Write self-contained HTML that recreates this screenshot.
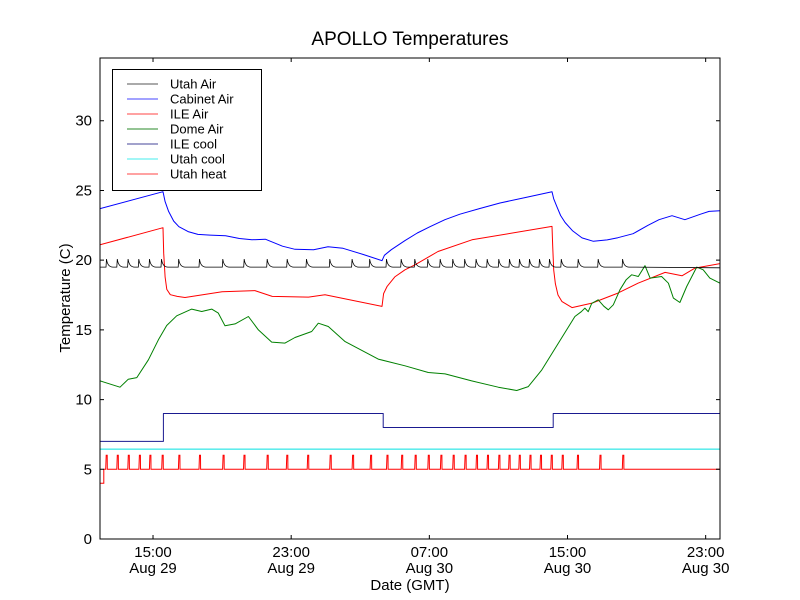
<!DOCTYPE html>
<html><head><meta charset="utf-8"><style>
body{margin:0;background:#fff;}
svg{display:block;font-family:"Liberation Sans","DejaVu Sans",sans-serif;}
</style></head><body>
<svg id="chart" width="800" height="600" xmlns="http://www.w3.org/2000/svg"></svg>
<script>
const xTickHours=[15,23,31,39,47];
const xTickLine1=["15:00","23:00","07:00","15:00","23:00"];
const xTickLine2=["Aug 29","Aug 29","Aug 30","Aug 30","Aug 30"];
const yTicks=[0,5,10,15,20,25,30];
const cabinetH=[11.93,15.58,15.7,15.9,16.2,16.5,17.03,17.6,18.3,19.2,20,20.73,21.5,22.5,23.22,24.3,25.13,26,27.2,28.26,28.4,28.8,29.59,30.3,31.04,31.9,32.77,33.9,35.09,36.6,38.10,38.2,38.4,38.6,38.86,39.3,39.84,40.5,41.3,41.92,42.8,43.66,44.3,45.05,45.80,46.7,47.2,47.83];
const cabinetV=[23.69,24.91,24.2,23.5,22.8,22.4,22.05,21.85,21.8,21.75,21.55,21.46,21.5,21.0,20.78,20.75,20.96,20.85,20.4,19.96,20.35,20.75,21.4,21.95,22.4,22.9,23.3,23.7,24.1,24.5,24.91,24.4,23.8,23.2,22.7,22.1,21.6,21.35,21.45,21.61,21.9,22.5,22.9,23.19,22.9,23.3,23.5,23.55];
const ileAirH=[11.93,15.58,15.62,15.7,15.8,16.0,16.4,16.85,19.0,20.9,21.9,24.0,24.96,28.26,28.35,28.55,29.0,29.59,30.17,31.5,33.47,38.1,38.14,38.2,38.3,38.45,38.68,39.26,40.42,41.92,43.08,44.65,45.63,46.38,47.83];
const ileAirV=[21.1,22.33,20.5,18.8,17.9,17.52,17.4,17.32,17.73,17.82,17.4,17.35,17.52,16.68,17.6,18.1,18.8,19.31,19.67,20.62,21.46,22.42,21.0,19.3,18.3,17.5,17.03,16.6,16.92,17.64,18.35,19.12,18.88,19.43,19.75];
const domeH=[11.93,13.09,13.57,14.06,14.73,15.31,15.79,16.37,17.24,17.82,18.40,18.78,19.17,19.75,20.52,21.10,21.87,22.64,23.22,24.19,24.57,25.15,26.12,28.04,29.59,30.94,31.91,33.45,34.99,36.06,36.73,37.51,38.47,39.43,39.8,40.01,40.2,40.4,40.78,41.1,41.36,41.65,42.04,42.4,42.72,43.10,43.49,43.78,44.45,44.84,45.13,45.51,45.90,46.48,46.86,47.24,47.83];
const domeV=[11.34,10.89,11.46,11.58,12.85,14.29,15.31,16.01,16.49,16.32,16.49,16.20,15.29,15.43,15.96,15.0,14.12,14.05,14.45,14.88,15.48,15.24,14.16,12.90,12.42,11.94,11.84,11.34,10.89,10.65,10.93,12.13,14.05,15.96,16.3,16.56,16.3,16.9,17.16,16.7,16.44,16.80,17.88,18.6,18.95,18.83,19.60,18.71,18.83,18.35,17.28,16.96,18.11,19.50,19.31,18.71,18.35];
const utahAirBase=19.5;
const utahAirPeak=20.08;
const utahAirSpikes=[12.28,12.90,13.53,14.15,14.77,15.46,16.46,17.66,19.01,20.25,21.58,22.74,23.86,25.21,26.50,27.52,28.49,29.34,30.13,30.88,31.60,32.33,33.02,33.68,34.32,34.99,35.61,36.19,36.77,37.35,37.93,38.61,39.59,40.75,42.16];
const ileCoolH=[11.93,15.6,28.33,38.17,47.83];
const ileCoolV=[7,9,8,9,9];
const utahCoolV=6.45;
const utahHeatBase=5;
const utahHeatOn=6;
const utahHeatSpikes=[12.26,12.90,13.54,14.18,14.79,15.50,16.47,17.66,19.03,20.24,21.58,22.72,23.93,25.23,26.53,27.57,28.52,29.37,30.15,30.91,31.64,32.35,33.04,33.70,34.34,35.00,35.59,36.18,36.80,37.41,38.03,38.67,39.55,40.85,42.17];
const legendLabels=["Utah Air","Cabinet Air","ILE Air","Dome Air","ILE cool","Utah cool","Utah heat"];
const legendColors=["#555","#4444ff","#ff4444","#2a8a2a","#44449a","#44eeee","#ff4444"];

const L=100,R=720,T=58,B=539,h0=11.93,h1=47.83,v0=0,v1=34.5;
const X=h=>L+(h-h0)/(h1-h0)*(R-L);
const Y=v=>B-(v-v0)/(v1-v0)*(B-T);
const svg=document.getElementById('chart');
const NS="http://www.w3.org/2000/svg";
function mk(tag,attrs,parent){const e=document.createElementNS(NS,tag);for(const k in attrs)e.setAttribute(k,attrs[k]);(parent||svg).appendChild(e);return e;}

const clip=mk('clipPath',{id:'pc'});mk('rect',{x:L,y:T,width:R-L,height:B-T},clip);
const plot=mk('g',{'clip-path':'url(#pc)'});



function line(hs,vs,color,name){
  let d='';for(let i=0;i<hs.length;i++)d+=(i?'L':'M')+X(hs[i]).toFixed(1)+' '+Y(vs[i]).toFixed(1);
  const p=mk('path',{d:d,fill:'none',stroke:color,'stroke-width':1,'stroke-linejoin':'round'},plot);
  
  
}
line(cabinetH,cabinetV,'#0000ff','cabinet-air-line');
line(ileAirH,ileAirV,'#ff0000','ile-air-line');
line(domeH,domeV,'#008000','dome-air-line');
line(ileCoolH.flatMap((h,i)=>i<ileCoolH.length-1?[h,ileCoolH[i+1]]:[]),ileCoolV.flatMap((v,i)=>i<ileCoolV.length-1?[v,v]:[]),'#1a1a90','ile-cool-line');
line([h0,h1],[utahCoolV,utahCoolV],'#00e0e0','utah-cool-line');

{let d='M'+X(h0)+' '+Y(utahAirBase);
 for(const t of utahAirSpikes){const x=X(t);d+='L'+x.toFixed(1)+' '+Y(utahAirBase)+'L'+(x+0.5).toFixed(1)+' '+Y(utahAirPeak).toFixed(1)+'Q'+(x+1.5).toFixed(1)+' '+Y(utahAirBase).toFixed(1)+' '+(x+7).toFixed(1)+' '+Y(utahAirBase).toFixed(1);}
 d+='L'+X(h1)+' '+Y(utahAirBase-0.05);
 const p=mk('path',{d:d,fill:'none',stroke:'#000','stroke-width':0.8},plot);
 
 }
{let d='M'+X(h0)+' '+Y(4)+'L'+X(12.15)+' '+Y(4)+'L'+X(12.15)+' '+Y(utahHeatBase);
 for(const t of utahHeatSpikes){const x=X(t);d+='L'+x.toFixed(1)+' '+Y(utahHeatBase)+'L'+(x+0.5).toFixed(1)+' '+Y(utahHeatOn).toFixed(1)+'L'+(x+1.5).toFixed(1)+' '+Y(utahHeatOn).toFixed(1)+'L'+(x+1.6).toFixed(1)+' '+Y(utahHeatBase);}
 d+='L'+X(h1)+' '+Y(utahHeatBase);
 const p=mk('path',{d:d,fill:'none',stroke:'#ff0000','stroke-width':1},plot);
 
 }

const fr=mk('rect',{x:L,y:T,width:R-L,height:B-T,fill:'none',stroke:'#000','stroke-width':1});


yTicks.forEach(v=>{const y=Y(v);
 mk('path',{d:`M${L} ${y}h4M${R} ${y}h-4`,stroke:'#000'});
 const t=mk('text',{x:L-8,y:y+5,'text-anchor':'end','font-size':15});t.textContent=v;
 
 });
xTickHours.forEach((h,i)=>{const x=X(h);
 mk('path',{d:`M${x} ${B}v-4M${x} ${T}v4`,stroke:'#000'});
 const t1=mk('text',{x:x,y:B+18,'text-anchor':'middle','font-size':15});t1.textContent=xTickLine1[i];
 
 
 const t2=mk('text',{x:x,y:B+34,'text-anchor':'middle','font-size':15});t2.textContent=xTickLine2[i];
 
 });
const ttl=mk('text',{x:410,y:45,'text-anchor':'middle','font-size':19});ttl.textContent='APOLLO Temperatures';


const xl=mk('text',{x:410,y:590,'text-anchor':'middle','font-size':15});xl.textContent='Date (GMT)';


const yl=mk('text',{x:0,y:0,'text-anchor':'middle','font-size':15,transform:'translate(70 298) rotate(-90)'});yl.textContent='Temperature (C)';


const lg=mk('g',{});


mk('rect',{x:112.5,y:69.5,width:149,height:121,fill:'#fff',stroke:'#000','stroke-width':1},lg);
legendLabels.forEach((s,i)=>{const y=84+i*15;
 const e=mk('g',{},lg);
 
 
 mk('line',{x1:127,x2:158,y1:y,y2:y,stroke:legendColors[i],'stroke-width':1},e);
 const t=mk('text',{x:170,y:y+4.5,'font-size':13},e);t.textContent=s;});
</script>
</body></html>
